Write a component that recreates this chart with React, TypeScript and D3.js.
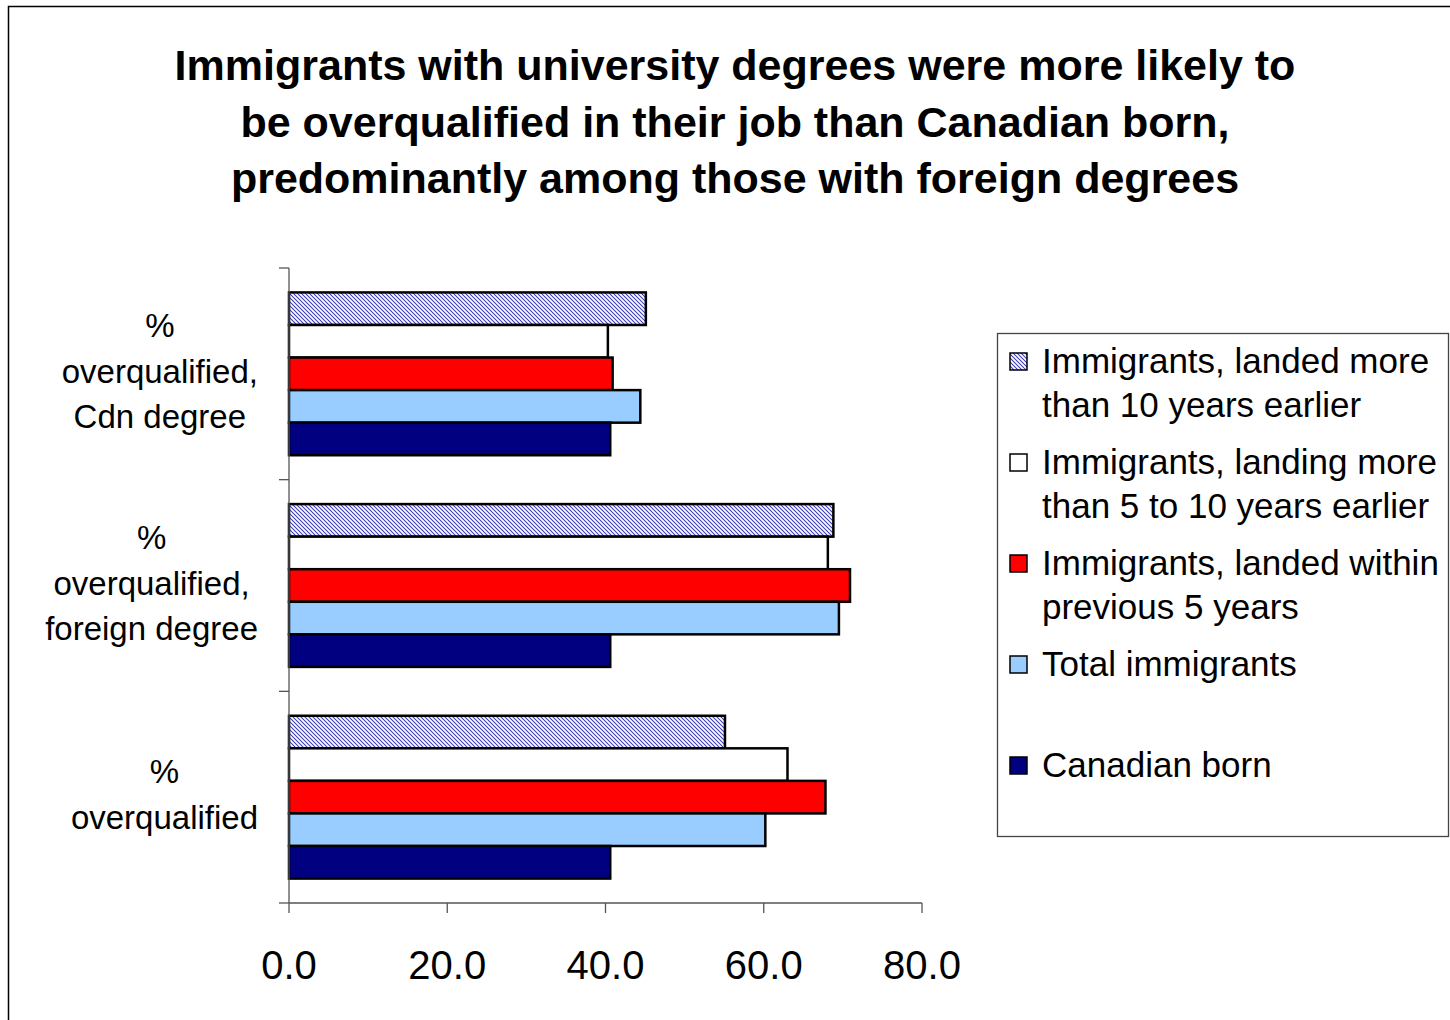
import React, { useEffect, useRef } from "react";
import * as d3 from "d3";

// Categories, top to bottom, each split into its printed lines
const categories = ["cdn", "foreign", "all"];
const categoryLines = [
  ["%", "overqualified,", "Cdn degree"],
  ["%", "overqualified,", "foreign degree"],
  ["%", "overqualified"],
];

// Series in the order the bars are stacked inside each group (top to bottom)
const seriesNames = [
  "Immigrants, landed more than 10 years earlier",
  "Immigrants, landing more than 5 to 10 years earlier",
  "Immigrants, landed within previous 5 years",
  "Total immigrants",
  "Canadian born",
];
const legendLines = [
  ["Immigrants, landed more", "than 10 years earlier"],
  ["Immigrants, landing more", "than 5 to 10 years earlier"],
  ["Immigrants, landed within", "previous 5 years"],
  ["Total immigrants"],
  ["Canadian born"],
];
const landedOver10 = [45.1, 68.8, 55.1];
const landed5to10 = [40.3, 68.1, 63.0];
const landedUnder5 = [40.9, 70.9, 67.8];
const totalImmigrants = [44.4, 69.5, 60.2];
const canadianBorn = [40.6, 40.6, 40.6];
const seriesValues = [landedOver10, landed5to10, landedUnder5, totalImmigrants, canadianBorn];
const seriesFills = ["url(#hatch)", "#FFFFFF", "#FF0000", "#99CCFF", "#000080"];

const xTicks = [0, 20, 40, 60, 80];
const titleLines = [
  "Immigrants with university degrees were more likely to",
  "be overqualified in their job than Canadian born,",
  "predominantly among those with foreign degrees",
];

const W = 1450;
const H = 1020;
const FONT = "'Liberation Sans', Arial, Helvetica, sans-serif";

export default function App() {
  const ref = useRef<SVGSVGElement | null>(null);

  useEffect(() => {
    const svg = d3.select(ref.current);
    svg.selectAll("*").remove();

    const defs = svg.append("defs");
    const pat = defs
      .append("pattern")
      .attr("id", "hatch")
      .attr("patternUnits", "userSpaceOnUse")
      .attr("width", 4)
      .attr("height", 4);
    pat.append("rect").attr("width", 4).attr("height", 4).attr("fill", "#FFFFFF");
    pat
      .append("path")
      .attr("d", "M-1,-1 L5,5 M-1,3 L1,5 M3,-1 L5,1")
      .attr("stroke", "#3a3ab4")
      .attr("stroke-width", 1.05);

    svg.append("rect").attr("width", W).attr("height", H).attr("fill", "#FFFFFF");
    // outer chart frame
    svg
      .append("rect")
      .attr("x", 8.5)
      .attr("y", 6.5)
      .attr("width", W + 20)
      .attr("height", H + 20)
      .attr("fill", "none")
      .attr("stroke", "#000")
      .attr("stroke-width", 1.5);

    // title
    svg
      .append("g")
      .selectAll("text")
      .data(titleLines)
      .join("text")
      .attr("x", 735)
      .attr("y", (_, i) => 80 + i * 56.5)
      .attr("text-anchor", "middle")
      .attr("font-family", FONT)
      .attr("font-weight", "bold")
      .attr("font-size", 43)
      .attr("fill", "#000")
      .text((d) => d);

    const x = d3.scaleLinear().domain([0, 80]).range([289, 922]);
    const y = d3.scaleBand<string>().domain(categories).range([268, 903]).padding(0);
    const inner = d3
      .scaleBand<string>()
      .domain(seriesNames)
      .range([0, y.bandwidth()])
      .paddingInner(0)
      .paddingOuter(0.75);

    // bars
    const bars = svg.append("g");
    seriesNames.forEach((s, si) => {
      bars
        .append("g")
        .selectAll("rect")
        .data(seriesValues[si])
        .join("rect")
        .attr("x", x(0))
        .attr("y", (_, ci) => (y(categories[ci]) as number) + (inner(s) as number))
        .attr("width", (v) => x(v) - x(0))
        .attr("height", inner.bandwidth())
        .attr("fill", seriesFills[si])
        .attr("stroke", "#000")
        .attr("stroke-width", 2.5);
    });

    // category axis
    const axisColor = "#555";
    const ya = svg.append("g");
    ya.append("line")
      .attr("x1", x(0))
      .attr("x2", x(0))
      .attr("y1", 268)
      .attr("y2", 903)
      .attr("stroke", axisColor)
      .attr("stroke-width", 1.3);
    const bounds = categories.map((c) => y(c) as number).concat([903]);
    ya.selectAll("line.tick")
      .data(bounds)
      .join("line")
      .attr("class", "tick")
      .attr("x1", x(0) - 10)
      .attr("x2", x(0))
      .attr("y1", (d) => d)
      .attr("y2", (d) => d)
      .attr("stroke", axisColor)
      .attr("stroke-width", 1.3);

    // category labels: a block right-aligned near the axis, lines centred within it
    categories.forEach((c, ci) => {
      const lines = categoryLines[ci];
      const g = svg.append("g");
      const lh = 45.5;
      const cy = (y(c) as number) + y.bandwidth() / 2 - 3;
      const top = cy - ((lines.length - 1) * lh) / 2;
      const texts = g
        .selectAll("text")
        .data(lines)
        .join("text")
        .attr("y", (_, i) => top + i * lh + 12)
        .attr("text-anchor", "middle")
        .attr("font-family", FONT)
        .attr("font-size", 33)
        .attr("fill", "#000")
        .text((d) => d);
      let maxW = 0;
      texts.each(function () {
        maxW = Math.max(maxW, (this as SVGTextElement).getComputedTextLength());
      });
      texts.attr("x", 258 - maxW / 2);
    });

    // value axis
    const xa = svg.append("g");
    xa.append("line")
      .attr("x1", x(0))
      .attr("x2", x(80))
      .attr("y1", 903)
      .attr("y2", 903)
      .attr("stroke", axisColor)
      .attr("stroke-width", 1.3);
    xa.selectAll("line.tick")
      .data(xTicks)
      .join("line")
      .attr("class", "tick")
      .attr("x1", (d) => x(d))
      .attr("x2", (d) => x(d))
      .attr("y1", 903)
      .attr("y2", 913)
      .attr("stroke", axisColor)
      .attr("stroke-width", 1.3);
    xa.selectAll("text")
      .data(xTicks)
      .join("text")
      .attr("x", (d) => x(d))
      .attr("y", 979)
      .attr("text-anchor", "middle")
      .attr("font-family", FONT)
      .attr("font-size", 40)
      .attr("fill", "#000")
      .text((d) => d3.format(".1f")(d));

    // legend
    const lg = svg.append("g");
    lg.append("rect")
      .attr("x", 997.5)
      .attr("y", 333.5)
      .attr("width", 451)
      .attr("height", 503)
      .attr("fill", "#FFF")
      .attr("stroke", "#444")
      .attr("stroke-width", 1.3);
    seriesNames.forEach((_, si) => {
      const cy = 361 + si * 101;
      lg.append("rect")
        .attr("x", 1010)
        .attr("y", cy - 8)
        .attr("width", 17)
        .attr("height", 17)
        .attr("fill", seriesFills[si])
        .attr("stroke", "#000")
        .attr("stroke-width", 1.5);
      lg.append("g")
        .selectAll("text")
        .data(legendLines[si])
        .join("text")
        .attr("x", 1042)
        .attr("y", (_, i) => cy + 12 + i * 44)
        .attr("font-family", FONT)
        .attr("font-size", 35)
        .attr("fill", "#000")
        .text((d) => d);
    });
  }, []);

  return (
    <svg
      ref={ref}
      width={W}
      height={H}
      style={{ position: "absolute", left: 0, top: 0, display: "block" }}
    />
  );
}
